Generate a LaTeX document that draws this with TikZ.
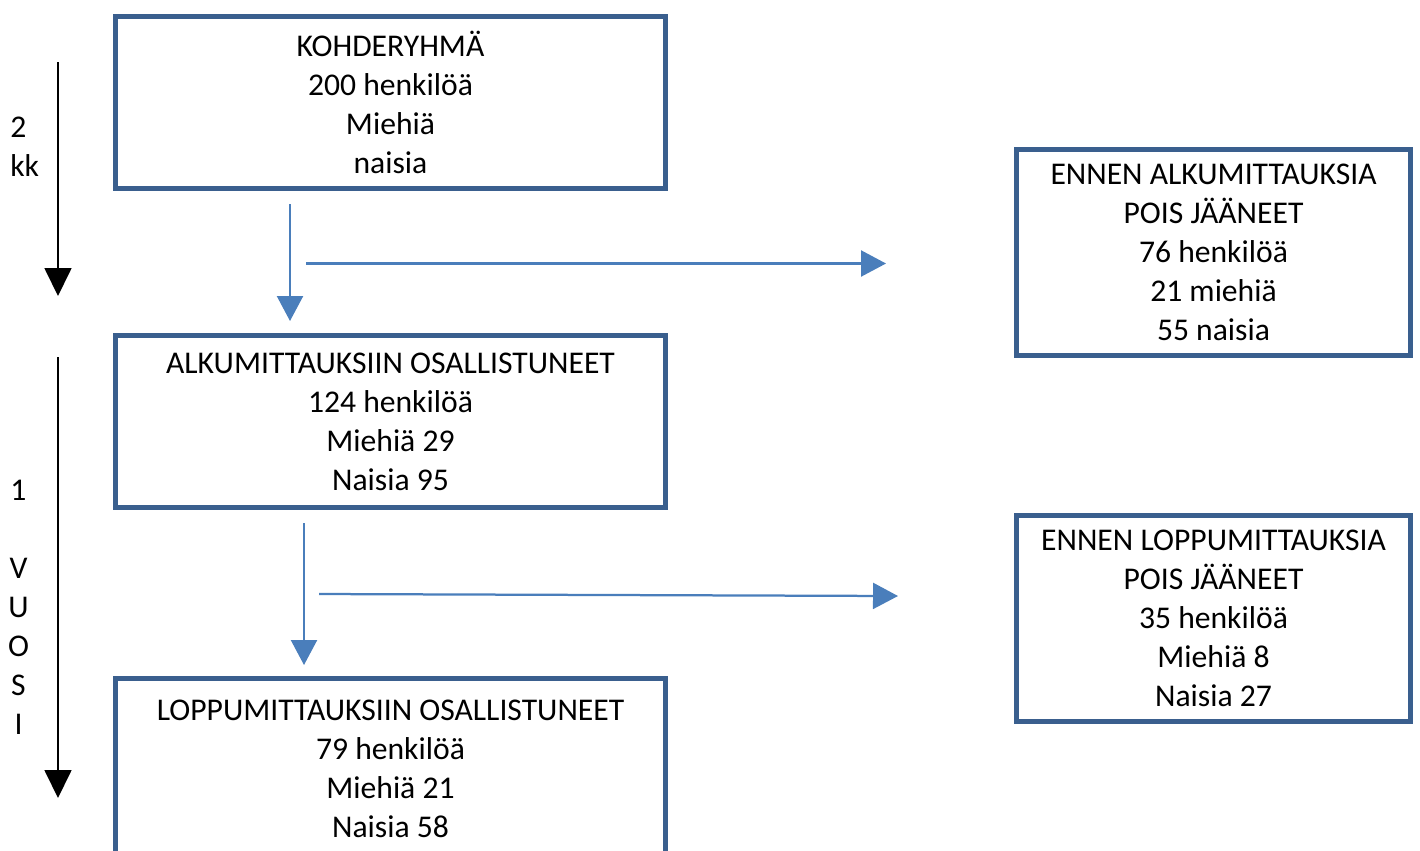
\documentclass[tikz,border=0pt]{standalone}
\usepackage{fontspec}
\setmainfont{Carlito}
\usepackage{tikz}
\usetikzlibrary{arrows.meta}
\usetikzlibrary{positioning}
\definecolor{boxblue}{RGB}{58,95,142}
\definecolor{flowblue}{RGB}{74,126,187}
\tikzstyle{group} = [rectangle, draw=boxblue, line width=0.1cm,
    minimum width=11.0cm, minimum height=3.44cm,
    align=center, inner sep=0pt, font={\fontsize{18}{22.2}\selectfont}]
\tikzstyle{dropout} = [group, minimum width=7.88cm, minimum height=4.12cm]
\tikzstyle{flowline} = [draw=flowblue, line width=0.045cm,
    -{Triangle[width=0.52cm,length=0.5cm]}]
\tikzstyle{timeline} = [draw=black, line width=0.035cm,
    -{Triangle[width=0.54cm,length=0.56cm]}]
\tikzstyle{timetext} = [inner sep=0pt, font={\fontsize{18}{22.2}\selectfont}]

\begin{document}
\begin{tikzpicture}[x=0.02cm, y=-0.02cm]
    \useasboundingbox (0,0) rectangle (1420,850);
    % participants
    \node [group] (kohde) at (390.5,102.5)
        {KOHDERYHMÄ\\200 henkilöä\\Miehiä\\naisia};
    \node [group, below=2.84cm of kohde] (alku)
        {ALKUMITTAUKSIIN OSALLISTUNEET\\124 henkilöä\\Miehiä 29\\Naisia 95};
    \node [group, minimum height=3.62cm, below=3.32cm of alku] (loppu)
        {LOPPUMITTAUKSIIN OSALLISTUNEET\\79 henkilöä\\Miehiä 21\\Naisia 58};
    % drop-outs
    \node [dropout] (pois1) at (1213.5,252.5)
        {ENNEN ALKUMITTAUKSIA\\POIS JÄÄNEET\\76 henkilöä\\21 miehiä\\55 naisia};
    \node [dropout] (pois2) at (1213.5,618.5)
        {ENNEN LOPPUMITTAUKSIA\\POIS JÄÄNEET\\35 henkilöä\\Miehiä 8\\Naisia 27};
    % flow arrows
    \coordinate (d1s) at (290,204);
    \coordinate (d1e) at (290,321);
    \coordinate (h1s) at (306,263.5);
    \coordinate (h1e) at (886,263.5);
    \coordinate (d2s) at (304,523);
    \coordinate (d2e) at (304,665);
    \coordinate (h2s) at (319,594);
    \coordinate (h2e) at (898,596);
    \draw [flowline] (d1s) -- (d1e);
    \draw [flowline] (h1s) -- (h1e);
    \draw [flowline] (d2s) -- (d2e);
    \draw [flowline] (h2s) -- (h2e);
    % time axis
    \coordinate (t1s) at (58,62);
    \coordinate (t1e) at (58,296);
    \coordinate (t2s) at (58,357);
    \coordinate (t2e) at (58,798);
    \draw [timeline] (t1s) -- (t1e);
    \draw [timeline] (t2s) -- (t2e);
    \node [timetext, align=left, anchor=west] (kk) at (10,146.5) {2\\kk};
    \node [timetext, align=center] (vuosi) at (18.5,607.5) {1\\[22.2pt]V\\U\\O\\S\\I};
\end{tikzpicture}
\end{document}
